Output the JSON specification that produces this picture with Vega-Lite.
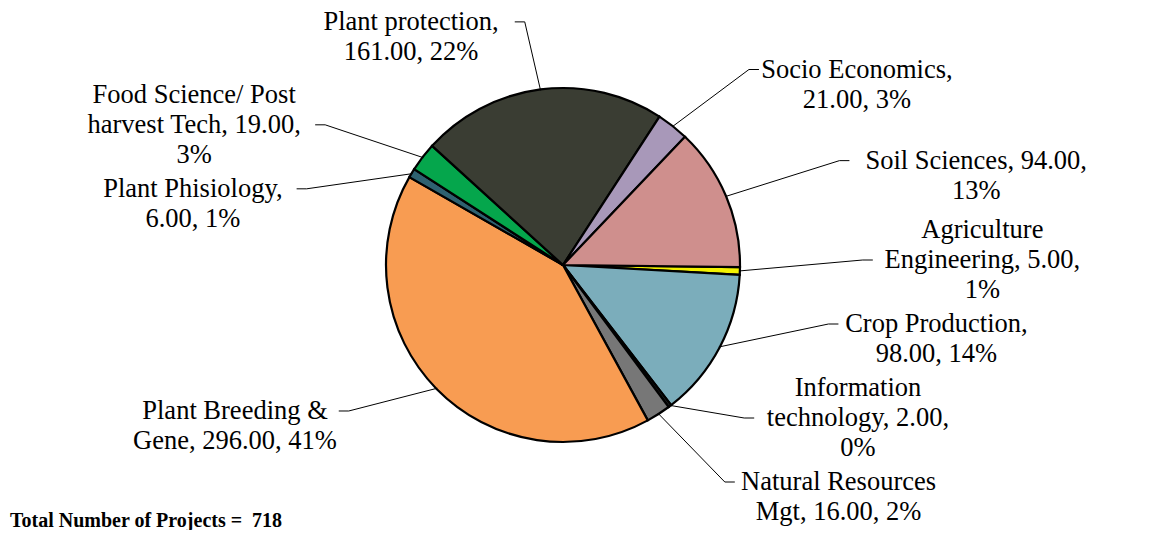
{
  "$schema": "https://vega.github.io/schema/vega-lite/v6.json",
  "width": 1126,
  "height": 530,
  "padding": 0,
  "autosize": {"type": "none"},
  "background": "white",
  "config": {"view": {"stroke": null}},
  "title": {
    "text": "Total Number of Projects =\u00a0 718",
    "orient": "bottom",
    "anchor": "start",
    "frame": "group",
    "offset": -19,
    "dx": 10,
    "font": "Liberation Serif",
    "fontSize": 20,
    "fontWeight": "bold",
    "color": "black"
  },
  "data": {
    "values": [
      {"order": 1, "category": "Agriculture Engineering", "value": 5, "label": "Agriculture\nEngineering, 5.00,\n1%"},
      {"order": 2, "category": "Crop Production", "value": 98, "label": "Crop Production,\n98.00, 14%"},
      {"order": 3, "category": "Information technology", "value": 2, "label": "Information\ntechnology, 2.00,\n0%"},
      {"order": 4, "category": "Natural Resources Mgt", "value": 16, "label": "Natural Resources\nMgt, 16.00, 2%"},
      {"order": 5, "category": "Plant Breeding & Gene", "value": 296, "label": "Plant Breeding &\nGene, 296.00, 41%"},
      {"order": 6, "category": "Plant Phisiology", "value": 6, "label": "Plant Phisiology,\n6.00, 1%"},
      {"order": 7, "category": "Food Science/ Post harvest Tech", "value": 19, "label": "Food Science/ Post\nharvest Tech, 19.00,\n3%"},
      {"order": 8, "category": "Plant protection", "value": 161, "label": "Plant protection,\n161.00, 22%"},
      {"order": 9, "category": "Socio Economics", "value": 21, "label": "Socio Economics,\n21.00, 3%"},
      {"order": 10, "category": "Soil Sciences", "value": 94, "label": "Soil Sciences, 94.00,\n13%"}
    ]
  },
  "transform": [
    {"joinaggregate": [{"op": "sum", "field": "value", "as": "total"}]},
    {"stack": "value", "groupby": [], "sort": [{"field": "order", "order": "ascending"}], "as": ["v0", "v1"]},
    {"calculate": "1.583 + 2*PI*datum.v0/datum.total", "as": "a0"},
    {"calculate": "1.583 + 2*PI*datum.v1/datum.total", "as": "a1"},
    {"calculate": "(datum.a0 + datum.a1)/2", "as": "m"},
    {"calculate": "sin(datum.m) >= 0 ? 'R' : 'L'", "as": "side"},
    {"calculate": "split(datum.label, '\\n')", "as": "lines"},
    {"calculate": "length(datum.lines)", "as": "nl"},
    {"calculate": "max(length(datum.lines[0]), datum.nl > 1 ? length(datum.lines[1]) : 0, datum.nl > 2 ? length(datum.lines[2]) : 0)", "as": "mc"},
    {"calculate": "datum.nl*30", "as": "h"},
    {"calculate": "230*cos(datum.m)", "as": "ynat"},
    {"window": [{"op": "lag", "field": "h", "as": "hprev"}], "groupby": ["side"], "sort": [{"field": "ynat", "order": "descending"}]},
    {"calculate": "datum.hprev == null ? 0 : (datum.hprev + datum.h)/2 + 4", "as": "step"},
    {"window": [{"op": "sum", "field": "step", "as": "S"}], "groupby": ["side"], "sort": [{"field": "ynat", "order": "descending"}]},
    {"calculate": "datum.ynat + datum.S", "as": "zn"},
    {"window": [{"op": "min", "field": "zn", "as": "z"}], "groupby": ["side"], "sort": [{"field": "ynat", "order": "descending"}]},
    {"joinaggregate": [{"op": "max", "field": "S", "as": "Stot"}], "groupby": ["side"]},
    {"calculate": "max(datum.z, -232 + datum.Stot) - datum.S", "as": "ly"},
    {"calculate": "datum.ly + (datum.nl - 1)*15", "as": "ty"},
    {"calculate": "datum.ty - 30*floor((datum.nl - 1)/2)", "as": "ay"},
    {"calculate": "300*sin(datum.m)", "as": "lx"},
    {"calculate": "176*sin(datum.m)", "as": "ex"},
    {"calculate": "176*cos(datum.m)", "as": "ey"},
    {"calculate": "datum.lx + (datum.side == 'R' ? 10 : -10)", "as": "hx"},
    {"calculate": "datum.hx + (datum.side == 'R' ? 1 : -1)*(6 + datum.mc*11.5/2)", "as": "tx"}
  ],
  "layer": [
    {
      "mark": {"type": "arc", "outerRadius": 177, "stroke": "black", "strokeWidth": 2.2},
      "encoding": {
        "theta": {"field": "a0", "type": "quantitative", "scale": null, "stack": null},
        "theta2": {"field": "a1"},
        "color": {
          "field": "category",
          "type": "nominal",
          "legend": null,
          "scale": {
            "domain": ["Agriculture Engineering", "Crop Production", "Information technology", "Natural Resources Mgt", "Plant Breeding & Gene", "Plant Phisiology", "Food Science/ Post harvest Tech", "Plant protection", "Socio Economics", "Soil Sciences"],
            "range": ["#f2f200", "#7badbb", "#222222", "#777777", "#f89c52", "#2e6170", "#05a64c", "#3a3d33", "#a898b9", "#cf8f8d"]
          }
        }
      }
    },
    {
      "mark": {"type": "rule", "color": "black", "strokeWidth": 1},
      "encoding": {
        "x": {"field": "ex", "type": "quantitative", "scale": {"domain": [-563, 563], "nice": false, "zero": false}, "axis": null},
        "y": {"field": "ey", "type": "quantitative", "scale": {"domain": [-265, 265], "nice": false, "zero": false}, "axis": null},
        "x2": {"field": "lx"},
        "y2": {"field": "ay"}
      }
    },
    {
      "mark": {"type": "rule", "color": "black", "strokeWidth": 1},
      "encoding": {
        "x": {"field": "lx", "type": "quantitative", "scale": {"domain": [-563, 563], "nice": false, "zero": false}, "axis": null},
        "x2": {"field": "hx"},
        "y": {"field": "ay", "type": "quantitative", "scale": {"domain": [-265, 265], "nice": false, "zero": false}, "axis": null}
      }
    },
    {
      "mark": {"type": "text", "align": "center", "baseline": "middle", "font": "Liberation Serif", "fontSize": 26.5, "lineHeight": 30, "lineBreak": "\n", "color": "black"},
      "encoding": {
        "x": {"field": "tx", "type": "quantitative", "scale": {"domain": [-563, 563], "nice": false, "zero": false}, "axis": null},
        "y": {"field": "ty", "type": "quantitative", "scale": {"domain": [-265, 265], "nice": false, "zero": false}, "axis": null},
        "text": {"field": "label"}
      }
    }
  ]
}
